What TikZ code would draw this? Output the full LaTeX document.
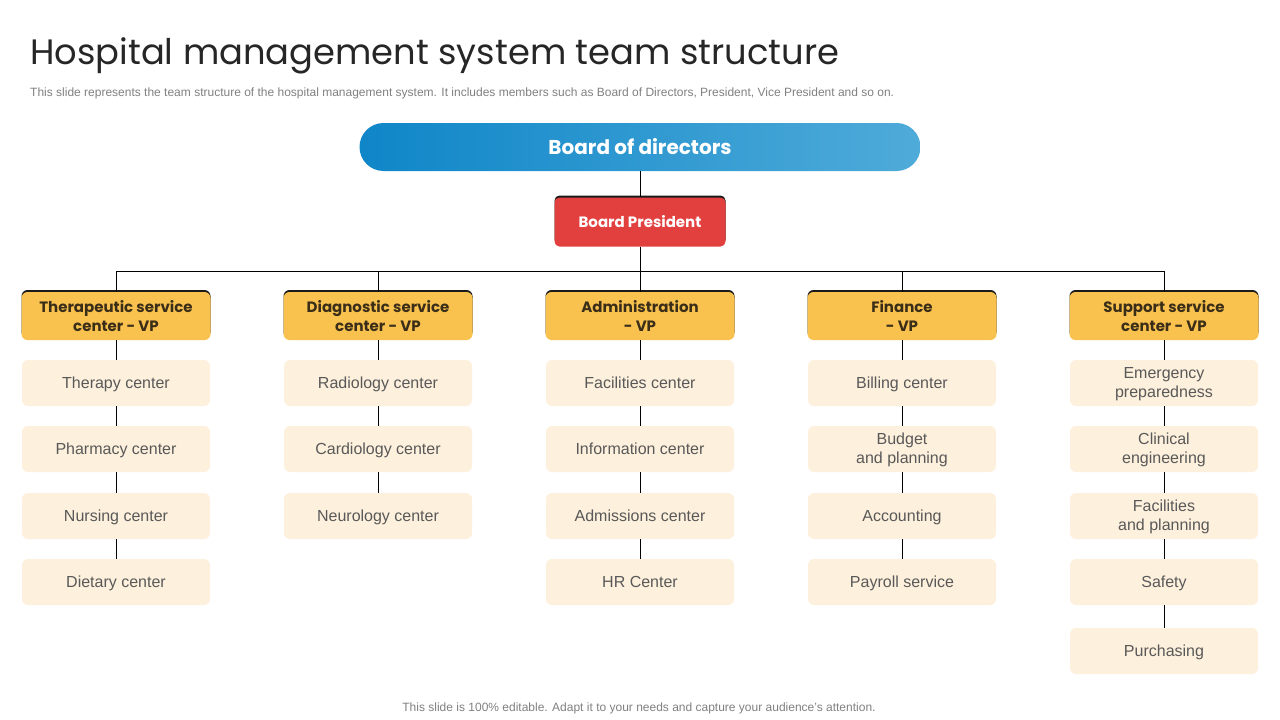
\documentclass[tikz,border=0pt]{standalone}
\usepackage{fontspec}
\setmainfont{Liberation Sans}
\newfontfamily\headfont{Poppins}
\usepackage{xcolor}
\usetikzlibrary{positioning, shadows}

\definecolor{titlegray}{HTML}{262626}
\definecolor{notegray}{HTML}{808080}
\definecolor{boardL}{HTML}{0F86C8}
\definecolor{boardR}{HTML}{4FABD9}
\definecolor{presred}{HTML}{E2403F}
\definecolor{vpyellow}{HTML}{F9C24F}
\definecolor{vptext}{HTML}{3A2E18}
\definecolor{unitcream}{HTML}{FDF0DC}
\definecolor{unittext}{HTML}{595959}
\definecolor{edgedark}{HTML}{1A1A1A}

\begin{document}
\begin{tikzpicture}[x=1pt, y=-1pt,
  edge/.style={copy shadow={shadow xshift=0pt, shadow yshift=2pt, fill=edgedark, draw=none}},
  vp/.style={edge, fill=vpyellow, rounded corners=6pt, minimum width=189pt, minimum height=48pt,
    inner sep=0pt, align=center, text=vptext, font=\headfont\bfseries\fontsize{15}{19}\selectfont},
  unit/.style={fill=unitcream, rounded corners=6pt, minimum width=188pt, minimum height=46pt,
    inner sep=0pt, align=center, text=unittext, font=\fontsize{16}{19}\selectfont,
    execute at begin node={\strut}, text depth=2pt},
  link/.style={draw=black, line width=0.8pt}]
  \useasboundingbox (0,0) rectangle (1280,720);

  % heading
  \node[anchor=base west, inner sep=0pt, text=titlegray, font=\headfont\fontsize{35.3}{40}\selectfont] (title) at (30,64) {Hospital management system team structure};
  \node[anchor=base west, inner sep=0pt, text=notegray, font=\fontsize{12}{14}\selectfont] (sub) at (30,96) {This slide represents the team structure of the hospital management system. It includes members such as Board of Directors, President, Vice President and so on.};

  % top of the tree
  \node[left color=boardL, right color=boardR, rounded corners=24pt, minimum width=561pt, minimum height=48pt,
    text=white, font=\headfont\bfseries\fontsize{20}{24}\selectfont] (bod) at (640,147) {Board of directors};
  \node[edge, fill=presred, rounded corners=5pt, minimum width=171pt, minimum height=49pt,
    text=white, font=\headfont\bfseries\fontsize{15}{19}\selectfont] (pres) at (640,222) {Board President};
  \coordinate (bus) at (640,271);

  % vice presidents
  \node[vp] (vpT) at (116,316) {Therapeutic service\\center - VP};
  \node[vp] (vpD) at (378,316) {Diagnostic service\\center - VP};
  \node[vp] (vpA) at (640,316) {Administration\\- VP};
  \node[vp] (vpF) at (902,316) {Finance\\- VP};
  \node[vp] (vpS) at (1164,316) {Support service\\center - VP};

  % units
  \node[unit] (t1) at (116,383) {Therapy center};
  \node[unit] (t2) at (116,449) {Pharmacy center};
  \node[unit] (t3) at (116,516) {Nursing center};
  \node[unit] (t4) at (116,582) {Dietary center};

  \node[unit] (d1) at (378,383) {Radiology center};
  \node[unit] (d2) at (378,449) {Cardiology center};
  \node[unit] (d3) at (378,516) {Neurology center};

  \node[unit] (a1) at (640,383) {Facilities center};
  \node[unit] (a2) at (640,449) {Information center};
  \node[unit] (a3) at (640,516) {Admissions center};
  \node[unit] (a4) at (640,582) {HR Center};

  \node[unit] (f1) at (902,383) {Billing center};
  \node[unit] (f2) at (902,449) {Budget\\and planning};
  \node[unit] (f3) at (902,516) {Accounting};
  \node[unit] (f4) at (902,582) {Payroll service};

  \node[unit] (s1) at (1164,383) {Emergency\\preparedness};
  \node[unit] (s2) at (1164,449) {Clinical\\engineering};
  \node[unit] (s3) at (1164,516) {Facilities\\and planning};
  \node[unit] (s4) at (1164,582) {Safety};
  \node[unit] (s5) at (1164,651) {Purchasing};

  % connectors
  \draw[link] (bod) -- (pres);
  \draw[link] (pres) -- (bus);
  \draw[link] (vpT) |- (bus);
  \draw[link] (vpD) |- (bus);
  \draw[link] (vpA) -- (bus);
  \draw[link] (vpF) |- (bus);
  \draw[link] (vpS) |- (bus);
  \draw[link] (vpT) -- (t1) -- (t2) -- (t3) -- (t4);
  \draw[link] (vpD) -- (d1) -- (d2) -- (d3);
  \draw[link] (vpA) -- (a1) -- (a2) -- (a3) -- (a4);
  \draw[link] (vpF) -- (f1) -- (f2) -- (f3) -- (f4);
  \draw[link] (vpS) -- (s1) -- (s2) -- (s3) -- (s4) -- (s5);

  % footer
  \node[anchor=base, inner sep=0pt, text=notegray, font=\fontsize{12}{14}\selectfont] (foot) at (639,711) {This slide is 100\% editable. Adapt it to your needs and capture your audience's attention.};
\end{tikzpicture}
\end{document}
